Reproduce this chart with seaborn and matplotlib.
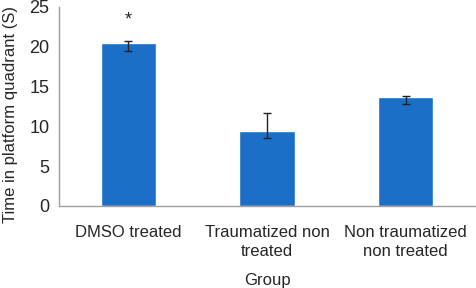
import numpy as np
import pandas as pd
import matplotlib
matplotlib.use("Agg")
import matplotlib.pyplot as plt
import seaborn as sns

groups = ["DMSO treated", "Traumatized non\ntreated", "Non traumatized\nnon treated"]
means = [20.5, 9.45, 13.7]
err_low = [1.0, 0.95, 0.9]
err_high = [0.2, 2.25, 0.15]

sns.set_style("white")
plt.rcParams["font.family"] = ["Liberation Sans", "DejaVu Sans"]

df = pd.DataFrame({"Group": groups, "Time": means})

fig = plt.figure(figsize=(4.77, 2.88), dpi=100)
ax = fig.add_axes([0.124, 0.285, 0.872, 0.691])
sns.barplot(data=df, x="Group", y="Time", color="#1b6fc6", width=0.4,
            saturation=1, errorbar=None, ax=ax)
ax.errorbar(np.arange(len(groups)), means, yerr=[err_low, err_high],
            fmt="none", ecolor="#222222", elinewidth=1, capsize=3, capthick=1)
ax.text(0, 23.3, "*", ha="center", va="center", fontsize=13)

ax.set_ylim(0, 25)
ax.set_xlim(-0.5, 2.5)
ax.set_yticks([0, 5, 10, 15, 20, 25])
ax.tick_params(axis="y", length=5, width=1, color="#a0a0a0", labelsize=13, pad=2)
ax.tick_params(axis="x", which="major", length=0, labelsize=12, pad=14)
ax.set_xticks([-0.5, 0.5, 1.5, 2.5], minor=True)
ax.tick_params(axis="x", which="minor", length=4, width=1, color="#a0a0a0")
for lbl in ax.get_xticklabels():
    lbl.set_linespacing(1.3)
ax.set_ylabel("Time in platform quadrant (S)", fontsize=12,
              family=["Liberation Sans Narrow", "Liberation Sans", "DejaVu Sans"])
ax.yaxis.set_label_coords(-0.1, 0.457)
ax.set_xlabel("Group", fontsize=12, labelpad=10)
sns.despine(ax=ax)
for s in ["left", "bottom"]:
    ax.spines[s].set_color("#a0a0a0")
    ax.spines[s].set_linewidth(1)

fig.savefig("out.png", dpi=100)
